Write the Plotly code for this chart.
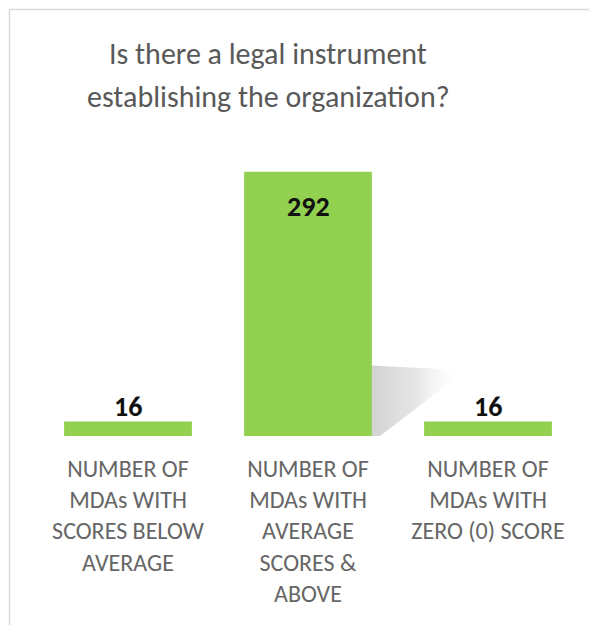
import plotly.graph_objects as go

categories = [
    "NUMBER OF<br>MDAs WITH<br>SCORES BELOW<br>AVERAGE",
    "NUMBER OF<br>MDAs WITH<br>AVERAGE<br>SCORES &<br>ABOVE",
    "NUMBER OF<br>MDAs WITH<br>ZERO (0) SCORE",
]
values = [16, 292, 16]
title_lines = ["Is there a legal instrument", "establishing the organization?"]

BAR = "#92D050"
GRAY = "#595959"
LABEL_GRAY = "#666666"
FONT = "Carlito, Lato, Open Sans, sans-serif"

# plot area in page pixels (page has an 8px body offset)
PX_L, PX_R, PX_T, PX_B = 38, 578, 150, 436
OFF = 8

fig = go.Figure()

# decorative soft shadow to the right of the tallest bar
imax = values.index(max(values))
sx = [imax + 0.355, imax + 0.355, imax + 0.86, imax + 0.86, imax + 0.40]
sy = [0, 78, 73, 70, 0]
fig.add_trace(go.Scatter(
    x=sx, y=sy, mode="lines", fill="toself", line=dict(width=0, color="rgba(0,0,0,0)"),
    fillgradient=dict(type="horizontal",
                      colorscale=[[0, "rgba(175,175,175,0.55)"], [0.5, "rgba(200,200,200,0.45)"],
                                  [1, "rgba(255,255,255,0)"]]),
    hoverinfo="skip", showlegend=False,
))

fig.add_trace(go.Bar(
    x=list(range(len(values))), y=values, marker=dict(color=BAR, line=dict(width=0)),
    width=0.71, hoverinfo="skip", showlegend=False,
))

# value labels
for i, v in enumerate(values):
    if v == max(values):
        fig.add_annotation(x=i, y=v, text=f"<b>{v}</b>", showarrow=False, yanchor="middle",
                           yshift=-35, font=dict(family=FONT, size=28, color="#111111"))
    else:
        fig.add_annotation(x=i, y=v, text=f"<b>{v}</b>", showarrow=False, yanchor="bottom",
                           yshift=-4, font=dict(family=FONT, size=28, color="#111111"))

H = PX_B - PX_T
W = PX_R - PX_L
# title (two lines)
for j, line in enumerate(title_lines):
    fig.add_annotation(xref="paper", yref="paper", x=(268 - PX_L) / W,
                       y=(PX_B - (53 + 43 * j)) / H, text=line, showarrow=False,
                       xanchor="center", yanchor="middle",
                       font=dict(family=FONT, size=30, color=GRAY))

# chart frame lines (top and left)
fx = (9.5 - PX_L) / W
fy = (PX_B - 9.5) / H
fig.add_shape(type="line", xref="paper", yref="paper", x0=fx, x1=1.2, y0=fy, y1=fy,
              line=dict(color="#D9D9D9", width=1.5))
fig.add_shape(type="line", xref="paper", yref="paper", x0=fx, x1=fx, y0=fy, y1=-1,
              line=dict(color="#D9D9D9", width=1.5))

fig.update_layout(
    width=597, height=625,
    margin=dict(l=PX_L - OFF, r=597 + OFF - PX_R, t=PX_T - OFF, b=625 + OFF - PX_B),
    paper_bgcolor="white", plot_bgcolor="white",
    xaxis=dict(tickmode="array", tickvals=list(range(len(values))), ticktext=categories,
               range=[-0.5, len(values) - 0.5], showgrid=False, zeroline=False, showline=False,
               ticks="", tickfont=dict(family=FONT, size=24, color=LABEL_GRAY), ticklabelstandoff=16,
               fixedrange=True),
    yaxis=dict(range=[0, 316], visible=False, showgrid=False, fixedrange=True),
    bargap=0.29,
)

fig.write_html("out.html")
